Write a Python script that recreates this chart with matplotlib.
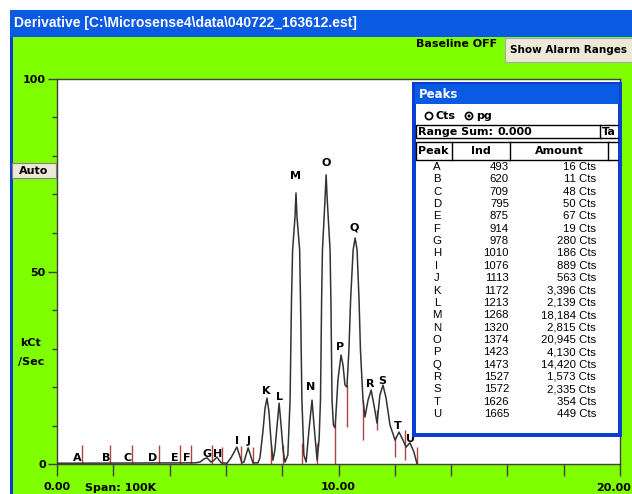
import matplotlib
matplotlib.use("Agg")
from matplotlib import pyplot as plt
from matplotlib import font_manager
from matplotlib.patches import Rectangle, Circle
from matplotlib.ticker import MultipleLocator

# derivative trace: x in span units (0-20), y in kCt/Sec
trace_x = [0.00, 4.90, 5.08, 5.22, 5.33, 5.47, 5.58, 5.68, 5.83, 6.04, 6.18, 6.39, 6.57, 6.64, 6.79, 6.96,
           7.14, 7.21, 7.32, 7.39, 7.46, 7.53, 7.60, 7.67,
           7.74, 7.82, 7.89, 7.96, 8.03, 8.10,
           8.20, 8.28, 8.33, 8.37, 8.455, 8.49, 8.525, 8.62, 8.65, 8.70, 8.77, 8.85,
           8.95, 9.06, 9.13, 9.24,
           9.31, 9.36, 9.40, 9.43, 9.52, 9.56, 9.60, 9.70, 9.73, 9.77, 9.82, 9.88,
           9.98, 10.09, 10.16, 10.23, 10.30,
           10.37, 10.43, 10.52, 10.59, 10.66, 10.73, 10.78, 10.87, 10.94,
           11.05, 11.16, 11.26, 11.37, 11.47, 11.58, 11.69, 11.83, 12.01, 12.15, 12.29, 12.40, 12.54,
           12.68, 12.79]
trace_y = [0.2, 0.3, 0.5, 1.3, 1.6, 0.5, 1.0, 1.8, 0.3, 0.2, 1.6, 4.4, 0.3, 0.5, 4.2, 0.3,
           0.3, 1.6, 8.8, 14.5, 17.1, 13.5, 6.2, 1.0,
           3.6, 10.1, 15.8, 10.1, 3.6, 0.5,
           2.3, 16.6, 42.6, 55.6, 64.2, 70.4, 64.2, 55.6, 42.6, 16.6, 2.3, 0.5,
           8.8, 16.6, 10.1, 1.0,
           6.2, 16.6, 42.6, 55.6, 68.6, 75.1, 68.6, 55.6, 42.6, 16.6, 10.1, 9.4,
           21.8, 28.3, 25.7, 20.5, 20.0,
           29.6, 42.6, 55.6, 58.7, 55.6, 42.6, 29.6, 16.6, 12.2,
           16.6, 19.2, 15.3, 10.6, 17.9, 20.5, 17.1, 10.1, 6.2, 8.3, 6.2, 4.4, 5.5,
           3.1, 0.0]

# integration limits (red markers)
limit_x = [0.89, 1.88, 2.66, 3.62, 4.37, 4.76, 5.51, 5.86, 6.54, 6.96, 7.60, 8.03, 8.70, 9.24,
           9.88, 10.30, 10.87, 11.37, 12.01, 12.36, 12.79]
limit_lo = [0, 0, 0, 0, 0, 0, 0, 0, 0, 0, 0, 0, 0, 0, 0, 9.6, 6.2, 8.8, 1.8, 1.0, 0]
limit_hi = [4.9, 4.9, 4.9, 4.9, 4.9, 4.9, 4.9, 4.4, 4.7, 4.4, 4.9, 4.9, 5.5, 5.5,
            10.6, 20.5, 16.6, 14.0, 7.0, 8.8, 4.4]

# peak letters on the trace
peak_names = list("ABCDEFGHIJKLMNOPQRSTU")
label_x = [0.71, 1.74, 2.52, 3.41, 4.19, 4.62, 5.33, 5.72, 6.39, 6.79, 7.42, 7.89, 8.49, 9.02,
           9.56, 10.05, 10.55, 11.12, 11.55, 12.11, 12.54]
label_y = [0.8, 0.8, 0.8, 0.8, 0.8, 0.8, 1.7, 1.7, 5.1, 5.1, 18.1, 16.5, 73.9, 19.1,
           77.3, 29.5, 60.6, 20.1, 20.9, 9.2, 5.6]

# peaks table
peak_ind = [493, 620, 709, 795, 875, 914, 978, 1010, 1076, 1113, 1172, 1213, 1268, 1320,
            1374, 1423, 1473, 1527, 1572, 1626, 1665]
peak_amount = [16, 11, 48, 50, 67, 19, 280, 186, 889, 563, 3396, 2139, 18184, 2815,
               20945, 4130, 14420, 1573, 2335, 354, 449]

GREEN = '#80ff00'
XPBLUE = '#0a5ae4'
BORDER = '#0b3ed2'
BTN = '#ece9d8'
FS = 8

names = {f.name for f in font_manager.fontManager.ttflist}
narrow = 'Liberation Sans Narrow' if 'Liberation Sans Narrow' in names else 'Liberation Sans'

W, H = 632, 494
fig = plt.figure(figsize=(W / 100, H / 100), dpi=100, facecolor=GREEN)

# chart area
ax = fig.add_axes([57 / W, 30 / H, 563 / W, 385 / H])
ax.set_facecolor('white')
ax.vlines(limit_x, limit_lo, limit_hi, color='#b4403f', lw=1.0, zorder=2)
ax.plot(trace_x, trace_y, color='#333333', lw=1.1, zorder=3)
for n, lx, ly in zip(peak_names, label_x, label_y):
    ax.text(lx, ly, n, ha='center', va='baseline', fontsize=FS, fontweight='bold', zorder=4)

ax.set_xlim(0, 20)
ax.set_ylim(0, 100)
xt = list(range(0, 21, 2))
ax.set_xticks(xt)
ax.set_xticklabels(['%.2f' % v if v in (0, 10) else '' for v in xt])
ax.set_yticks([0, 50, 100])
ax.yaxis.set_minor_locator(MultipleLocator(10))
ax.tick_params(axis='x', direction='out', length=8.5, width=1, color='#404040', pad=4.5, labelsize=FS)
ax.tick_params(axis='y', which='major', direction='out', length=6.5, width=1, color='#404040', pad=1.5,
               labelsize=FS)
ax.tick_params(axis='y', which='minor', direction='out', length=3.6, width=1, color='#404040')
for lbl in ax.get_xticklabels() + ax.get_yticklabels():
    lbl.set_fontweight('bold')
for sp in ax.spines.values():
    sp.set_color('#404040')
    sp.set_linewidth(1)

# window chrome, drawn in pixel coordinates
ui = fig.add_axes([0, 0, 1, 1], zorder=5)
ui.set_xlim(0, W)
ui.set_ylim(H, 0)
ui.axis('off')
ui.patch.set_alpha(0)

ui.add_patch(Rectangle((0, 0), W, 10, fc='white', ec='none'))
ui.add_patch(Rectangle((0, 0), 10, H, fc='white', ec='none'))
ui.add_patch(Rectangle((10, 10), 3, H, fc=BORDER, ec='none'))
ui.add_patch(Rectangle((10, 10), W - 10, 27, fc=XPBLUE, ec='none'))
ui.text(14, 23.5, r'Derivative [C:\Microsense4\data\040722_163612.est]', color='white',
        fontsize=10, family=narrow, fontweight='bold', va='center')

# last x label sits on the right edge of the window
ui.text(631, 487.5, '20.00', fontsize=FS, fontweight='bold', va='center', ha='right')

ui.text(416, 44, 'Baseline OFF', fontsize=FS, fontweight='bold', va='center')
ui.add_patch(Rectangle((505, 38), 130, 24, fc=BTN, ec='#a8a8a8', lw=0.8))
ui.text(568, 50, 'Show Alarm Ranges', fontsize=7.5, fontweight='bold', va='center', ha='center')

ui.add_patch(Rectangle((12, 163), 44, 15, fc=BTN, ec='#808080', lw=0.8))
ui.text(34, 171, 'Auto', fontsize=FS, fontweight='bold', va='center', ha='center')

ui.text(20, 343, 'kCt', fontsize=FS, fontweight='bold', va='center')
ui.text(18, 362, '/Sec', fontsize=FS, fontweight='bold', va='center')
ui.text(85, 488, 'Span: 100K', fontsize=FS, fontweight='bold', va='center')

# peaks window
ui.add_patch(Rectangle((412, 82), 210, 355, fc=BORDER, ec='none'))
ui.add_patch(Rectangle((415, 84), 204, 20, fc=XPBLUE, ec='none'))
ui.add_patch(Rectangle((416, 104), 202, 329, fc='white', ec='none'))
ui.text(419, 94, 'Peaks', color='white', fontsize=8.5, fontweight='bold', va='center')

ui.add_patch(Circle((429, 116), 3.6, fc='white', ec='black', lw=1.2))
ui.text(436, 116, 'Cts', fontsize=FS, fontweight='bold', va='center')
ui.add_patch(Circle((469, 116), 3.6, fc='white', ec='black', lw=1.2))
ui.add_patch(Circle((469, 116), 1.5, fc='black', ec='none'))
ui.text(476, 116, 'pg', fontsize=FS, fontweight='bold', va='center')

ui.add_patch(Rectangle((416, 125), 204, 13, fc='none', ec='black', lw=1))
ui.plot([600, 600], [125, 138], color='black', lw=1)
ui.text(418, 131.5, 'Range Sum:', fontsize=FS, fontweight='bold', va='center')
ui.text(498, 131.5, '0.000', fontsize=FS, fontweight='bold', va='center')
ui.text(602, 131.5, 'Ta', fontsize=FS, fontweight='bold', va='center')

ui.add_patch(Rectangle((416, 142), 204, 18, fc='none', ec='black', lw=1))
for xd in [452, 510, 608]:
    ui.plot([xd, xd], [142, 160], color='black', lw=1)
ui.text(418, 151, 'Peak', fontsize=FS, fontweight='bold', va='center')
ui.text(481, 151, 'Ind', fontsize=FS, fontweight='bold', va='center', ha='center')
ui.text(559, 151, 'Amount', fontsize=FS, fontweight='bold', va='center', ha='center')

# right border drawn over the header cells
ui.add_patch(Rectangle((619, 82), 3, 355, fc=BORDER, ec='none'))

for i, (n, ind, amt) in enumerate(zip(peak_names, peak_ind, peak_amount)):
    yy = 167 + 12.35 * i
    ui.text(437, yy, n, fontsize=8.2, family=narrow, va='center', ha='center')
    ui.text(509, yy, str(ind), fontsize=8.2, family=narrow, va='center', ha='right')
    ui.text(596, yy, '{:,} Cts'.format(amt), fontsize=8.2, family=narrow, va='center', ha='right')

fig.savefig('out.png', dpi=100, facecolor=GREEN)
